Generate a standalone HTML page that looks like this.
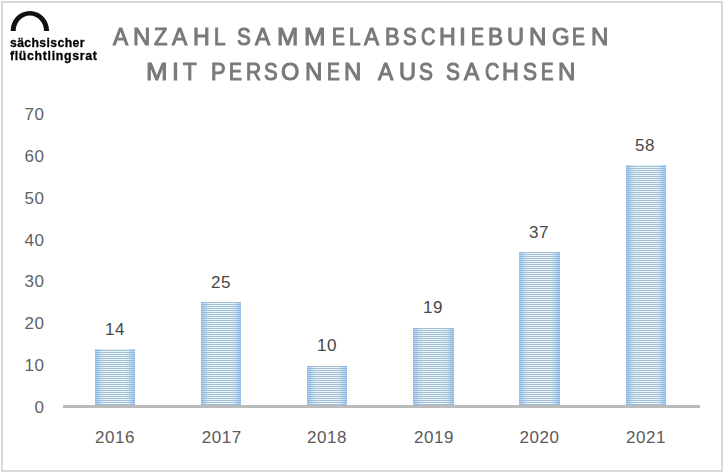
<!DOCTYPE html>
<html><head><meta charset="utf-8">
<style>
html,body{margin:0;padding:0;background:#fff;}
body{width:724px;height:473px;position:relative;overflow:hidden;font-family:"Liberation Sans",sans-serif;}
.frame{position:absolute;left:1px;top:1px;width:718px;height:467px;border:2px solid #d9d9d9;box-sizing:content-box;}
.t{position:absolute;white-space:nowrap;line-height:1;}
.tl{position:absolute;white-space:nowrap;line-height:1;color:#797979;font-weight:normal;font-size:23px;-webkit-text-stroke:1px #797979;transform-origin:0 0;}
.yl{color:#626262;font-size:17px;letter-spacing:0.5px;text-align:right;width:40px;left:4.5px;}
.xl{color:#5a5a5a;font-size:17px;letter-spacing:0.6px;text-align:center;width:80px;}
.vl{color:#484848;font-size:17px;letter-spacing:0.5px;text-align:center;width:80px;}
.bar{position:absolute;width:40px;
 background:linear-gradient(to right, #8cb2dc 0%, #94b8de 7.5%, #a2bcd8 15%, #a8bcd3 25%, #a8bcd3 75%, #a2bcd8 85%, #94b8de 92.5%, #8cb2dc 100%);
}
.bar::before{content:"";position:absolute;left:0;top:0;right:0;bottom:0;
 background:linear-gradient(to right, #aad1f6 0%, #b4d7f7 7.5%, #d6edfb 15%, #e6f7fc 25%, #e6f7fc 75%, #d6edfb 85%, #b4d7f7 92.5%, #aad1f6 100%);
 -webkit-mask-image:repeating-linear-gradient(to bottom, transparent 0px, transparent 1px, #000 1px, #000 2px);
}
.odd::before{-webkit-mask-image:repeating-linear-gradient(to bottom, #000 0px, #000 1px, transparent 1px, transparent 2px);}
.axis{position:absolute;left:63px;top:405px;width:637px;height:3px;background:#bbbbbb;}
.logo{position:absolute;left:10px;top:10px;}
.lt{position:absolute;font-weight:bold;color:#000;-webkit-text-stroke:0.3px #000;transform-origin:0 0;font-size:13px;white-space:nowrap;line-height:1;}
</style></head><body>
<div class="frame"></div>

<svg width="60" height="40" viewBox="0 0 60 40" style="position:absolute;left:0;top:0">
  <path d="M10.65 30.9 A19.2 20 0 0 1 49.05 30.9 L44 30.9 A14.15 15.5 0 0 0 15.7 30.9 Z" fill="#111"/>
</svg>
<div class="lt" style="left:10px;top:35.5px;letter-spacing:0.4px;transform:scaleX(0.94)">sächsischer</div>
<div class="lt" style="left:10px;top:49px;letter-spacing:0.7px;transform:scaleX(0.95)">flüchtlingsrat</div>

<div class="tl" style="left:112.51px;top:26px;transform:scaleX(0.986)">A</div>
<div class="tl" style="left:132.96px;top:26px;transform:scaleX(1.041)">N</div>
<div class="tl" style="left:154.33px;top:26px;transform:scaleX(0.960)">Z</div>
<div class="tl" style="left:172.35px;top:26px;transform:scaleX(0.993)">A</div>
<div class="tl" style="left:192.68px;top:26px;transform:scaleX(1.009)">H</div>
<div class="tl" style="left:213.69px;top:26px;transform:scaleX(0.908)">L</div>
<div class="tl" style="left:237.07px;top:26px;transform:scaleX(0.899)">S</div>
<div class="tl" style="left:255.18px;top:26px;transform:scaleX(0.996)">A</div>
<div class="tl" style="left:276.82px;top:26px;transform:scaleX(1.112)">M</div>
<div class="tl" style="left:304.36px;top:26px;transform:scaleX(1.124)">M</div>
<div class="tl" style="left:331.80px;top:26px;transform:scaleX(0.840)">E</div>
<div class="tl" style="left:349.19px;top:26px;transform:scaleX(0.908)">L</div>
<div class="tl" style="left:364.41px;top:26px;transform:scaleX(0.986)">A</div>
<div class="tl" style="left:384.96px;top:26px;transform:scaleX(0.955)">B</div>
<div class="tl" style="left:403.22px;top:26px;transform:scaleX(0.887)">S</div>
<div class="tl" style="left:420.61px;top:26px;transform:scaleX(0.870)">C</div>
<div class="tl" style="left:439.18px;top:26px;transform:scaleX(1.009)">H</div>
<div class="tl" style="left:459.37px;top:26px;transform:scaleX(1.088)">I</div>
<div class="tl" style="left:470.62px;top:26px;transform:scaleX(0.844)">E</div>
<div class="tl" style="left:487.65px;top:26px;transform:scaleX(0.982)">B</div>
<div class="tl" style="left:507.14px;top:26px;transform:scaleX(1.026)">U</div>
<div class="tl" style="left:529.34px;top:26px;transform:scaleX(1.049)">N</div>
<div class="tl" style="left:551.51px;top:26px;transform:scaleX(0.981)">G</div>
<div class="tl" style="left:572.40px;top:26px;transform:scaleX(0.840)">E</div>
<div class="tl" style="left:591.02px;top:26px;transform:scaleX(1.046)">N</div>
<div class="tl" style="left:145.63px;top:61px;transform:scaleX(1.122)">M</div>
<div class="tl" style="left:172.17px;top:61px;transform:scaleX(1.088)">I</div>
<div class="tl" style="left:183.46px;top:61px;transform:scaleX(0.970)">T</div>
<div class="tl" style="left:210.65px;top:61px;transform:scaleX(0.950)">P</div>
<div class="tl" style="left:228.52px;top:61px;transform:scaleX(0.844)">E</div>
<div class="tl" style="left:245.77px;top:61px;transform:scaleX(0.908)">R</div>
<div class="tl" style="left:264.23px;top:61px;transform:scaleX(0.891)">S</div>
<div class="tl" style="left:281.29px;top:61px;transform:scaleX(1.024)">O</div>
<div class="tl" style="left:304.94px;top:61px;transform:scaleX(1.049)">N</div>
<div class="tl" style="left:326.70px;top:61px;transform:scaleX(0.840)">E</div>
<div class="tl" style="left:344.16px;top:61px;transform:scaleX(1.041)">N</div>
<div class="tl" style="left:378.18px;top:61px;transform:scaleX(0.996)">A</div>
<div class="tl" style="left:398.54px;top:61px;transform:scaleX(1.026)">U</div>
<div class="tl" style="left:419.01px;top:61px;transform:scaleX(0.908)">S</div>
<div class="tl" style="left:446.11px;top:61px;transform:scaleX(0.908)">S</div>
<div class="tl" style="left:464.18px;top:61px;transform:scaleX(0.996)">A</div>
<div class="tl" style="left:484.68px;top:61px;transform:scaleX(0.862)">C</div>
<div class="tl" style="left:502.36px;top:61px;transform:scaleX(1.017)">H</div>
<div class="tl" style="left:523.02px;top:61px;transform:scaleX(0.912)">S</div>
<div class="tl" style="left:540.64px;top:61px;transform:scaleX(0.818)">E</div>
<div class="tl" style="left:558.24px;top:61px;transform:scaleX(1.049)">N</div>

<div class="t yl" style="top:106px;">70</div>
<div class="t yl" style="top:148px;">60</div>
<div class="t yl" style="top:190px;">50</div>
<div class="t yl" style="top:232px;">40</div>
<div class="t yl" style="top:273px;">30</div>
<div class="t yl" style="top:315px;">20</div>
<div class="t yl" style="top:357px;">10</div>
<div class="t yl" style="top:399px;">0</div>


<div class="bar odd" style="left:95px;top:349px;height:57px;"></div>
<div class="bar" style="left:201px;top:302px;height:104px;"></div>
<div class="bar" style="left:307px;top:366px;height:40px;"></div>
<div class="bar" style="left:413px;top:328px;height:78px;width:41px;"></div>
<div class="bar" style="left:519px;top:252px;height:154px;width:41px;"></div>
<div class="bar odd" style="left:626px;top:165px;height:241px;"></div>

<div class="axis"></div>
<div class="t vl" style="left:75px;top:321px;">14</div>
<div class="t vl" style="left:181px;top:274px;">25</div>
<div class="t vl" style="left:287px;top:337px;">10</div>
<div class="t vl" style="left:393px;top:299px;">19</div>
<div class="t vl" style="left:499px;top:224px;">37</div>
<div class="t vl" style="left:605px;top:137px;">58</div>

<div class="t xl" style="left:75px;top:429px;">2016</div>
<div class="t xl" style="left:181.75px;top:429px;">2017</div>
<div class="t xl" style="left:287px;top:429px;">2018</div>
<div class="t xl" style="left:394px;top:429px;">2019</div>
<div class="t xl" style="left:499.5px;top:429px;">2020</div>
<div class="t xl" style="left:606px;top:429px;">2021</div>
</body></html>
